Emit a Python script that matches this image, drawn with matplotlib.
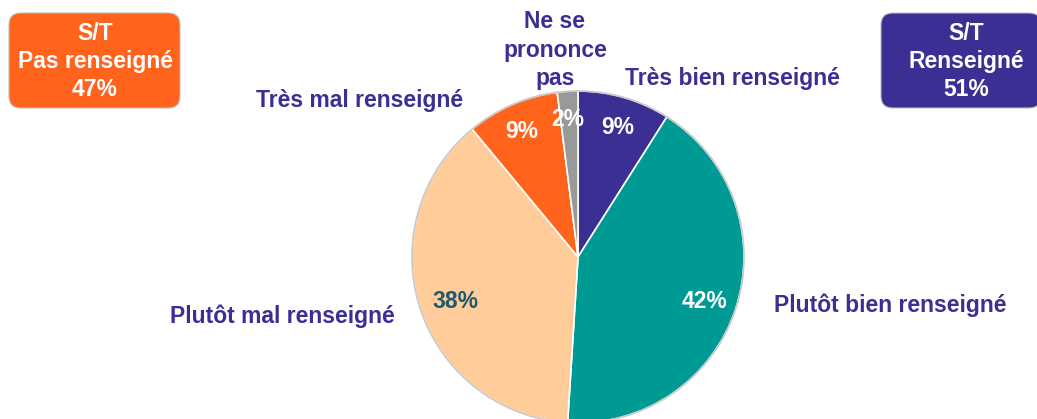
import matplotlib.pyplot as plt
from matplotlib.patches import FancyBboxPatch

plt.rcParams['font.family'] = ['Liberation Sans', 'DejaVu Sans']

# data, clockwise from the top
categories = ["Très bien renseigné", "Plutôt bien renseigné", "Plutôt mal renseigné",
              "Très mal renseigné", "Ne se\nprononce\npas"]
values = [9, 42, 38, 9, 2]
colors = ["#3a2f93", "#009a94", "#ffcc9a", "#ff631c", "#999999"]
pct_colors = ["white", "white", "#1d5a6e", "white", "white"]
totals = [("S/T\nPas renseigné\n47%", "#ff631c"), ("S/T\nRenseigné\n51%", "#3a2f93")]

W, H = 1037, 419
fig = plt.figure(figsize=(W / 100, H / 100), dpi=100)
ax = fig.add_axes([0, 0, 1, 1])

def P(x, y):
    # pixel position (top-left origin) -> data coords
    return x, H - y

navy = "#3a2f93"
cx, cy = P(578, 257)

ax.pie(values, colors=colors, startangle=90, counterclock=False,
       center=(cx, cy), radius=166, frame=True,
       wedgeprops=dict(edgecolor="white", linewidth=1.2))
ax.add_patch(plt.Circle((cx, cy), 166, fill=False, ec="#c8c8c8", lw=1.2))
ax.set_xlim(0, W)
ax.set_ylim(0, H)
ax.set_aspect("equal")
ax.axis("off")

fs = 16.5

# percentage labels inside the slices
pct_pos = [(618, 127), (705, 302), (455, 302), (522, 131), (568, 120)]
for v, pos, c in zip(values, pct_pos, pct_colors):
    ax.text(*P(*pos), f"{v}%", ha="center", va="center", color=c,
            fontsize=fs, fontweight="bold")

# category labels
lab_pos = [(732, 79), (890, 305), (282, 316), (360, 101), (555, 50)]
for name, pos in zip(categories, lab_pos):
    ax.text(*P(*pos), name, ha="center", va="center", color=navy, fontsize=fs,
            fontweight="bold", linespacing=1.32)

# subtotal boxes
box_pos = [(9, 13, 171, 95), (881, 13, 160, 95)]
text_x = [95, 966]
for (txt, col), (x, y, w, h), tx in zip(totals, box_pos, text_x):
    r = 12
    ax.add_patch(FancyBboxPatch((x + r, H - y - h + r), w - 2 * r, h - 2 * r,
                                boxstyle=f"round,pad={r}", fc=col, ec="#bbbbbb", lw=0.8))
    ax.text(*P(tx, y + h / 2 + 1), txt, ha="center", va="center",
            color="white", fontsize=fs, fontweight="bold", linespacing=1.28)

fig.savefig("out.png", dpi=100)
